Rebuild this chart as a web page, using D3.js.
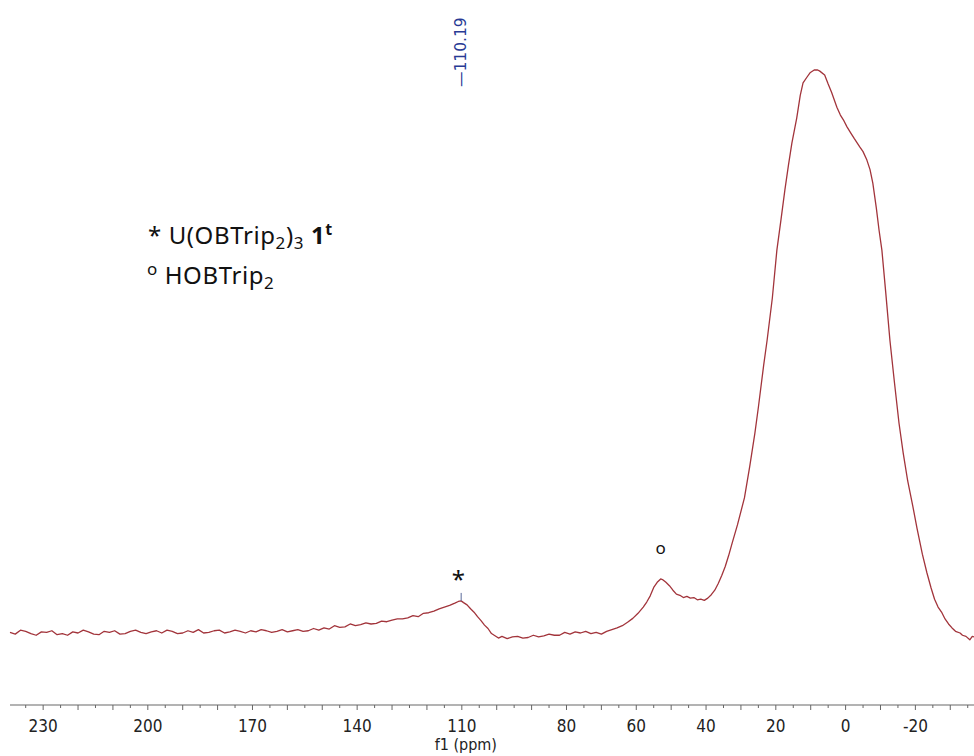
<!DOCTYPE html>
<html>
<head>
<meta charset="utf-8">
<script src="https://cdn.jsdelivr.net/npm/d3@7/dist/d3.min.js"></script>
<style>
  html, body { margin: 0; padding: 0; background: #fff; }
  svg { display: block; }
</style>
</head>
<body>
<svg id="chart" width="974" height="756"></svg>
<script>
// ---- data (chemical shift in ppm, relative intensity) ----
const ppm = [
  239.5, 238, 236.5, 235, 233.5, 232, 230.5, 229, 227.5, 226, 224.5, 223, 221.5, 220, 218.5, 217, 215.5, 214, 212.5, 211,
  209.5, 208, 206.5, 205, 203.5, 202, 200.5, 199, 197.5, 196, 194.5, 193, 191.5, 190, 188.5, 187, 185.5, 184, 182.5, 181,
  179.5, 178, 176.5, 175, 173.5, 172, 170.5, 169, 167.5, 166, 164.5, 163, 161.5, 160, 158.5, 157, 155.5, 154, 152.5, 151,
  149.5, 148, 146.5, 145, 143.5, 142, 140.5, 139, 137.5, 136, 134.5, 133, 131.5, 130, 128.5, 127, 125.5, 124, 122.5, 121,
  119.5, 118, 116.5, 115, 113.5, 112, 111, 110.2, 109.5, 108.5, 107.5, 106.5, 105.5, 104.5, 103.5, 102.5, 101.5, 100.5, 99.5, 98.5,
  97, 95.5, 94, 92.5, 91, 89.5, 88, 86.5, 85, 83.5, 82, 80.5, 79, 77.5, 76, 74.5, 73, 71.5, 70, 68.5,
  67, 65.5, 64, 62.5, 61, 59.5, 58, 57, 56, 55, 54, 53, 52.5, 51.5, 50.5, 49.5, 48.5, 47.5, 46.5, 45.5,
  44.5, 43.5, 42.5, 41.5, 40.5, 39.5, 38.5, 37.5, 36.5, 35.5, 34.5, 33.5, 32.5, 31, 29, 27.5, 26, 25, 23.5, 22.5,
  21, 19.7, 18.5, 17.4, 16.4, 15.4, 14, 13, 12.2, 11, 10.2, 9, 8, 7.4, 6, 5, 4, 2.5, 1.5, 0.5,
  -0.4, -1.5, -2.5, -4.1, -5, -6.1, -7, -7.8, -8.8, -9.6, -10.4, -11.5, -12.7, -14, -15.3, -16.5, -17.8, -19.3, -20.5, -22,
  -23.3, -24.5, -25.5, -26.5, -27.6, -28.5, -29.5, -30.5, -31.5, -32.8, -33.5, -34.5, -35.6, -36.3, -36.8
];
const intensity = [
  0.1, -0.2, 0.5, 0.3, -0.1, -0.4, 0.2, 0.1, 0.4, -0.3, -0.1, -0.4, 0.2, 0.0, 0.5, 0.2, -0.2, -0.3, 0.3, 0.1,
  0.4, -0.2, -0.1, 0.3, 0.5, 0.1, -0.1, 0.2, 0.4, 0.0, 0.5, 0.3, -0.1, 0.0, 0.4, 0.1, 0.6, 0.0, 0.1, 0.4,
  0.5, 0.0, 0.2, 0.5, 0.3, 0.0, 0.4, 0.2, 0.6, 0.4, 0.1, 0.3, 0.6, 0.2, 0.4, 0.6, 0.3, 0.4, 0.8, 0.5,
  0.9, 0.7, 1.3, 1.0, 1.1, 1.6, 1.3, 1.5, 1.8, 1.6, 1.7, 2.1, 2.0, 2.3, 2.5, 2.5, 2.7, 3.1, 2.9, 3.5,
  3.6, 3.9, 4.3, 4.6, 4.9, 5.3, 5.6, 5.7, 5.4, 5.0, 4.3, 3.7, 2.9, 2.2, 1.4, 0.8, -0.1, -0.5, -0.9, -0.6,
  -1.0, -0.7, -0.6, -0.9, -0.8, -0.4, -0.7, -0.5, -0.2, -0.4, -0.4, 0.1, -0.2, 0.2, 0.0, 0.3, -0.1, 0.1, -0.2, 0.3,
  0.6, 0.9, 1.3, 1.9, 2.6, 3.5, 4.6, 5.5, 6.6, 8.1, 9.0, 9.6, 9.5, 9.0, 8.4, 7.6, 6.9, 6.7, 6.3, 6.5,
  6.2, 6.3, 5.9, 6.0, 5.8, 6.2, 6.8, 7.6, 8.8, 10.2, 11.8, 13.8, 16.0, 19.2, 24.0, 29.5, 35.5, 40.1, 47.5, 52.0,
  59.5, 68.0, 73.5, 78.7, 83.0, 87.0, 91.5, 95.5, 97.7, 98.8, 99.5, 100, 100, 99.8, 99.1, 97.5, 96.0, 93.4, 92.0, 91.0,
  89.9, 88.8, 87.8, 86.3, 85.5, 84.0, 82.3, 79.9, 75.5, 71.5, 68.0, 60.5, 52.0, 44.5, 37.3, 32.0, 27.0, 22.4, 18.5, 14.0,
  10.7, 8.0, 6.0, 4.6, 3.6, 2.5, 1.6, 0.9, 0.3, 0.0, -0.4, -0.6, -1.2, -0.6, -0.7
];
const tickLabels = [230, 200, 170, 140, 110, 80, 60, 40, 20, 0, -20];
const peakPick = [110.19];
const peakLabels = ["110.19"];
const markerPpm = [111, 53];
const markerText = ["*", "o"];
const legendLine2 = "HOBTrip";

// ---- layout ----
const svg = d3.select("#chart");
const x = d3.scaleLinear().domain([239.5, -36.8]).range([10, 974]);
const y = d3.scaleLinear().domain([0, 100]).range([633, 70]);
const axisY = 705;

// spectrum
const data = ppm.map((p, i) => ({ p, v: intensity[i] }));
svg.append("path")
  .datum(data)
  .attr("fill", "none")
  .attr("stroke", "#a2343b")
  .attr("stroke-width", 1.3)
  .attr("stroke-linejoin", "round")
  .attr("d", d3.line().x(d => x(d.p)).y(d => y(d.v)));

// x axis
const axisG = svg.append("g").attr("transform", `translate(0,${axisY})`);
axisG.append("line")
  .attr("x1", 10).attr("x2", 974)
  .attr("stroke", "#9a9a9a").attr("stroke-width", 1.3);
const tickVals = d3.range(235, -40, -5);
axisG.selectAll("line.tick")
  .data(tickVals)
  .join("line")
  .attr("class", "tick")
  .attr("x1", d => x(d)).attr("x2", d => x(d))
  .attr("y1", 0)
  .attr("y2", d => (d % 10 === 0 ? 5 : 3))
  .attr("stroke", "#666").attr("stroke-width", 1);
axisG.selectAll("text.lbl")
  .data(tickLabels)
  .join("text")
  .attr("class", "lbl")
  .attr("x", d => x(d))
  .attr("y", 27)
  .attr("text-anchor", "middle")
  .attr("font-family", "'DejaVu Sans Condensed', 'DejaVu Sans', sans-serif")
  .attr("font-size", 17)
  .attr("fill", "#222")
  .text(d => d);
svg.append("text")
  .attr("x", x(110) + 4)
  .attr("y", 750)
  .attr("text-anchor", "middle")
  .attr("font-family", "'DejaVu Sans Condensed', 'DejaVu Sans', sans-serif")
  .attr("font-size", 16)
  .attr("fill", "#222")
  .text("f1 (ppm)");

// peak pick label
peakPick.forEach((p, i) => {
  const px = x(p);
  svg.append("text")
    .attr("transform", `translate(${px + 5},87) rotate(-90)`)
    .attr("font-family", "'DejaVu Sans', sans-serif")
    .attr("font-size", 15.5)
    .attr("fill", "#283a94")
    .text("\u2014" + peakLabels[i]);
  svg.append("line")
    .attr("x1", px).attr("x2", px)
    .attr("y1", y(intensity[ppm.indexOf(110.2)]) - 8)
    .attr("y2", y(intensity[ppm.indexOf(110.2)]))
    .attr("stroke", "#5a6a9a").attr("stroke-width", 1);
});

// peak markers
svg.append("text")
  .attr("x", x(markerPpm[0])).attr("y", 588)
  .attr("text-anchor", "middle")
  .attr("font-family", "'Noto Sans', sans-serif")
  .attr("font-size", 24)
  .attr("fill", "#111")
  .text(markerText[0]);
svg.append("text")
  .attr("x", x(markerPpm[1])).attr("y", 554)
  .attr("text-anchor", "middle")
  .attr("font-family", "'Noto Sans', sans-serif")
  .attr("font-size", 17)
  .attr("fill", "#111")
  .text(markerText[1]);

// legend
const lf = "'Noto Sans', 'Open Sans', sans-serif";
const l1 = svg.append("text")
  .attr("x", 148).attr("y", 244)
  .attr("font-family", lf).attr("font-size", 24).attr("letter-spacing", 0.6).attr("fill", "#111");
l1.append("tspan").text("* U(OBTrip");
l1.append("tspan").attr("font-size", 17).attr("dy", 5).text("2");
l1.append("tspan").attr("dy", -5).text(")");
l1.append("tspan").attr("font-size", 17).attr("dy", 5).text("3");
l1.append("tspan").attr("dy", -5).text(" ");
l1.append("tspan").attr("font-weight", "bold").text("1");
l1.append("tspan").attr("font-weight", "bold").attr("font-size", 16).attr("dy", -9).text("t");

const l2 = svg.append("text")
  .attr("x", 147).attr("y", 284)
  .attr("font-family", lf).attr("font-size", 24).attr("letter-spacing", 0.6).attr("fill", "#111");
l2.append("tspan").attr("font-size", 17).attr("dy", -9).text("o");
l2.append("tspan").attr("dy", 9).text(" " + legendLine2);
l2.append("tspan").attr("font-size", 17).attr("dy", 5).text("2");
</script>
</body>
</html>
